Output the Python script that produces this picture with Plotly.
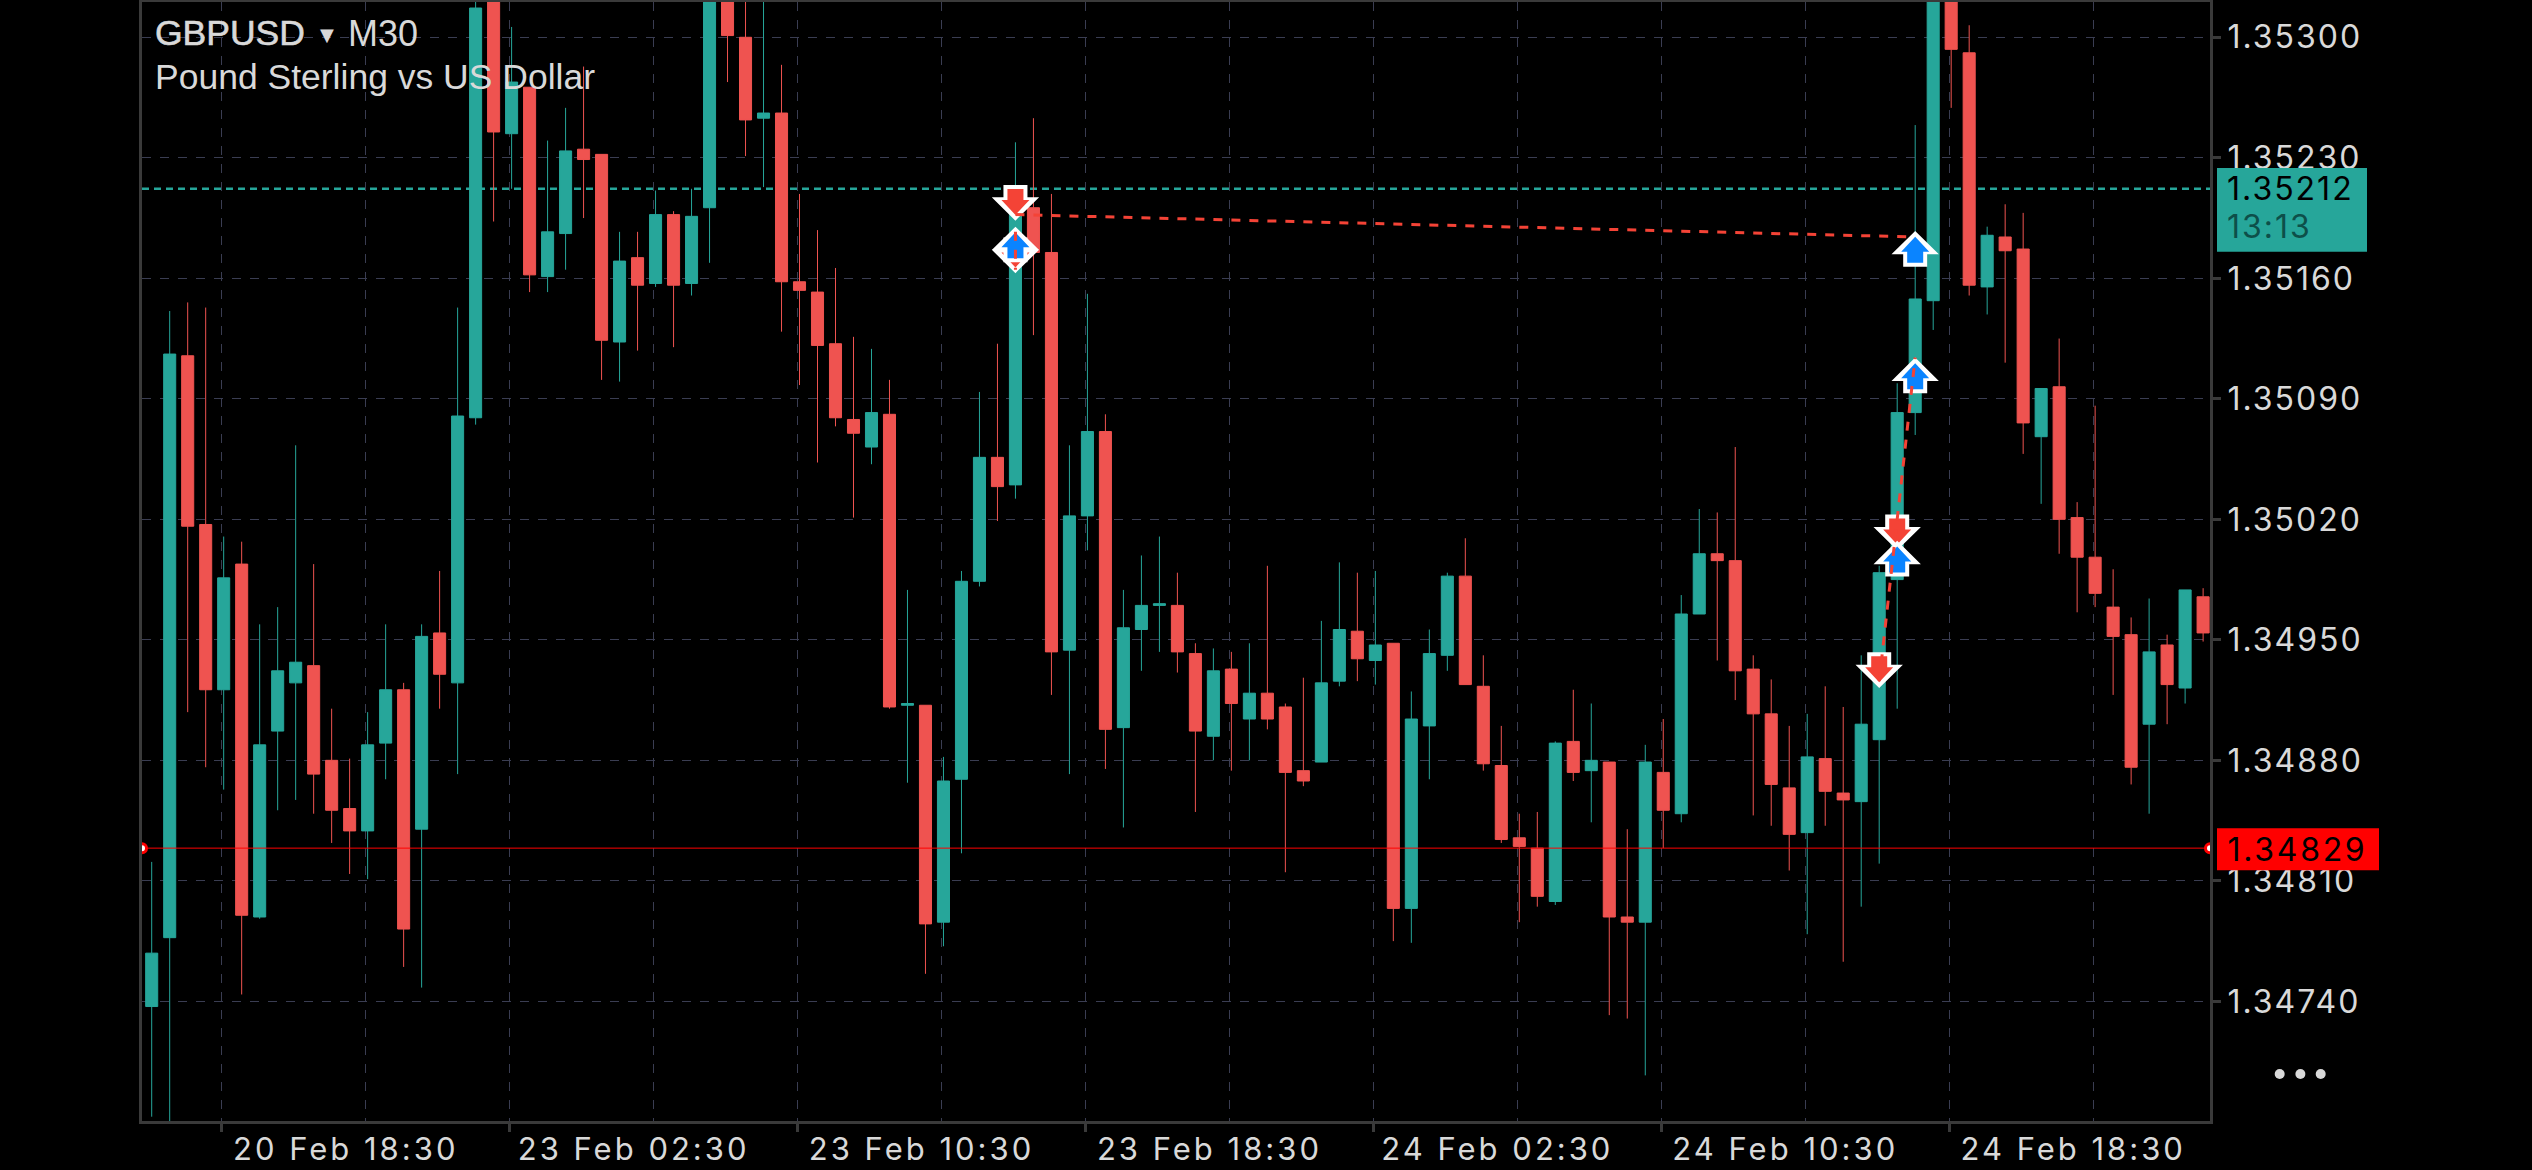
import plotly.graph_objects as go

# ---------- data ----------
symbol = "GBPUSD"
timeframe = "M30"
description = "Pound Sterling vs US Dollar"
countdown = "13:13"
ask_price = 1.35212
bid_price = 1.34829

open_ = [1.34737,1.34777,1.35115,1.35017,1.34921,1.34994,1.34789,1.34897,1.34925,1.34935,
         1.34880,1.34852,1.34839,1.34890,1.34921,1.34840,1.34954,1.34925,1.35079,1.35335,
         1.35244,1.35271,1.35161,1.35186,1.35235,1.35232,1.35123,1.35172,1.35157,1.35197,
         1.35157,1.35201,1.35335,1.35300,1.35253,1.35256,1.35158,1.35152,1.35122,1.35078,
         1.35062,1.35081,1.34912,1.34912,1.34786,1.34869,1.34984,1.35056,1.35040,1.35201,
         1.35175,1.34944,1.35022,1.35071,1.34899,1.34956,1.34970,1.34970,1.34942,1.34894,
         1.34933,1.34904,1.34919,1.34911,1.34874,1.34879,1.34926,1.34955,1.34938,1.34948,
         1.34794,1.34900,1.34941,1.34987,1.34923,1.34877,1.34835,1.34829,1.34798,1.34891,
         1.34874,1.34879,1.34789,1.34786,1.34873,1.34849,1.34965,1.35000,1.34996,1.34933,
         1.34907,1.34864,1.34838,1.34881,1.34861,1.34856,1.34892,1.34985,1.35082,1.35147,
         1.35345,1.35291,1.35155,1.35184,1.35177,1.35068,1.35097,1.35021,1.34998,1.34969,
         1.34953,1.34901,1.34947,1.34922,1.34975]
high = [1.34821,1.35141,1.35146,1.35143,1.35010,1.35007,1.34959,1.34969,1.35063,1.34994,
        1.34910,1.34881,1.34908,1.34959,1.34925,1.34959,1.34990,1.35143,1.35330,1.35340,
        1.35306,1.35271,1.35240,1.35259,1.35283,1.35232,1.35187,1.35187,1.35211,1.35199,
        1.35212,1.35340,1.35340,1.35330,1.35330,1.35284,1.35209,1.35188,1.35166,1.35126,
        1.35119,1.35101,1.34979,1.34912,1.34882,1.34990,1.35094,1.35122,1.35239,1.35253,
        1.35209,1.35063,1.35151,1.35081,1.34979,1.34999,1.35010,1.34989,1.34948,1.34945,
        1.34943,1.34948,1.34993,1.34913,1.34928,1.34961,1.34995,1.34989,1.34990,1.34948,
        1.34920,1.34956,1.34989,1.35009,1.34941,1.34900,1.34849,1.34850,1.34891,1.34921,
        1.34913,1.34879,1.34840,1.34889,1.34904,1.34976,1.35026,1.35024,1.35062,1.34941,
        1.34927,1.34900,1.34907,1.34923,1.34911,1.34941,1.34993,1.35099,1.35249,1.35345,
        1.35350,1.35307,1.35190,1.35203,1.35198,1.35096,1.35125,1.35030,1.35086,1.34991,
        1.34963,1.34974,1.34953,1.34979,1.34980]
low = [1.34673,1.34660,1.34908,1.34876,1.34863,1.34744,1.34788,1.34851,1.34857,1.34849,
       1.34832,1.34814,1.34811,1.34869,1.34760,1.34748,1.34910,1.34872,1.35075,1.35193,
       1.35212,1.35152,1.35152,1.35165,1.35195,1.35101,1.35100,1.35118,1.35155,1.35120,
       1.35150,1.35169,1.35274,1.35231,1.35213,1.35129,1.35098,1.35053,1.35074,1.35021,
       1.35052,1.34910,1.34867,1.34756,1.34772,1.34826,1.34981,1.35019,1.35032,1.35127,
       1.34918,1.34872,1.35002,1.34875,1.34841,1.34932,1.34943,1.34931,1.34850,1.34880,
       1.34874,1.34880,1.34898,1.34815,1.34865,1.34879,1.34923,1.34926,1.34924,1.34775,
       1.34774,1.34869,1.34932,1.34924,1.34874,1.34832,1.34786,1.34795,1.34796,1.34868,
       1.34844,1.34732,1.34730,1.34697,1.34829,1.34844,1.34965,1.34938,1.34915,1.34848,
       1.34842,1.34816,1.34779,1.34842,1.34763,1.34795,1.34820,1.34910,1.35069,1.35130,
       1.35259,1.35150,1.35139,1.35111,1.35058,1.35029,1.35000,1.34966,1.34969,1.34918,
       1.34866,1.34849,1.34901,1.34913,1.34949]
close = [1.34768,1.35116,1.35016,1.34921,1.34986,1.34790,1.34889,1.34932,1.34937,1.34872,
         1.34851,1.34839,1.34889,1.34921,1.34782,1.34952,1.34930,1.35080,1.35317,1.35245,
         1.35274,1.35162,1.35187,1.35234,1.35229,1.35124,1.35170,1.35156,1.35197,1.35156,
         1.35196,1.35340,1.35301,1.35252,1.35256,1.35158,1.35153,1.35121,1.35079,1.35070,
         1.35082,1.34911,1.34913,1.34785,1.34868,1.34984,1.35056,1.35039,1.35204,1.35175,
         1.34943,1.35022,1.35071,1.34898,1.34957,1.34970,1.34971,1.34943,1.34897,1.34932,
         1.34913,1.34919,1.34904,1.34873,1.34868,1.34925,1.34956,1.34939,1.34947,1.34794,
         1.34904,1.34942,1.34987,1.34924,1.34878,1.34834,1.34830,1.34801,1.34890,1.34873,
         1.34880,1.34789,1.34786,1.34879,1.34851,1.34965,1.35000,1.34996,1.34932,1.34907,
         1.34866,1.34837,1.34882,1.34862,1.34857,1.34901,1.34989,1.35082,1.35148,1.35340,
         1.35293,1.35156,1.35185,1.35176,1.35076,1.35096,1.35020,1.34998,1.34977,1.34952,
         1.34876,1.34943,1.34924,1.34979,1.34954]
bars = list(range(len(close)))

price_ticks = [1.35300,1.35230,1.35160,1.35090,1.35020,1.34950,1.34880,1.34810,1.34740]
price_labels = ["1.35300","1.35230","1.35160","1.35090","1.35020","1.34950","1.34880","1.34810","1.34740"]
time_ticks = [3.89,19.89,35.89,51.89,67.89,83.89,99.89]
time_labels = ["20 Feb 18:30","23 Feb 02:30","23 Feb 10:30","23 Feb 18:30","24 Feb 02:30","24 Feb 10:30","24 Feb 18:30"]
time_minor = [11.89,27.89,43.89,59.89,75.89,91.89,107.89]

sell_bars = [48,48,96,97]
sell_prices = [1.35163,1.351935,1.34922,1.35002]
buy_bars = [48,98,98,97]
buy_prices = [1.35190,1.351875,1.35114,1.350075]
trade_from = [(48,1.35197),(48,1.35187),(96,1.34926)]
trade_to = [(98,1.35184),(48,1.35165),(98,1.35114)]

# ---------- style ----------
BG = "#000000"; TEAL = "#26a69a"; RED = "#ef5350"; GRID = "#3a3d52"; AXIS = "#3a3a3a"; TEXT = "#d9d9d9"
ARROW_RED = "#f44336"; ARROW_BLUE = "#0a84ff"
FONT = "Inter"; TITLE_FONT = "Liberation Sans"
X_RANGE = [-0.539, 114.383]
Y_RANGE = [1.346705, 1.353205]

def poly(pts):
    return "M" + "L".join(f"{x},{y}" for x, y in pts) + "Z"

def arrow(bar, price, sign):
    # glyph outline in screen pixels relative to the tip; sign=1 points down, sign=-1 points up
    outer = [(0,0),(23.7,23.4),(12,23.4),(12,35.7),(-12,35.7),(-12,23.4),(-23.7,23.4)]
    inner = [(0,5.7),(14,20.7),(8,20.7),(8,31.7),(-8,31.7),(-8,20.7),(-14,20.7)]
    col = ARROW_RED if sign == 1 else ARROW_BLUE
    out = []
    for pts, c in ((outer, "#ffffff"), (inner, col)):
        out.append(dict(type="path", xref="x", yref="y", xsizemode="pixel", ysizemode="pixel",
                        xanchor=bar, yanchor=price,
                        path=poly([(x, sign*y) for x, y in pts]), fillcolor=c, line_width=0, layer="above"))
    return out

shapes = [dict(type="line", xref="paper", x0=0, x1=1, yref="y", y0=ask_price, y1=ask_price,
               line=dict(color=TEAL, width=2.5, dash="7px,5px"), layer="below")]
for b, p in zip(sell_bars, sell_prices):
    shapes += arrow(b, p, 1)
for b, p in zip(buy_bars, buy_prices):
    shapes += arrow(b, p, -1)
for a, b in zip(trade_from, trade_to):
    shapes.append(dict(type="line", xref="x", yref="y", x0=a[0], y0=a[1], x1=b[0], y1=b[1],
                       line=dict(color=ARROW_RED, width=3, dash="9px,9px"), layer="above"))
# price tags
shapes.append(dict(type="rect", xref="paper", xsizemode="pixel", xanchor=1, x0=7, x1=157,
                   yref="y", ysizemode="pixel", yanchor=ask_price, y0=20.7, y1=-63,
                   fillcolor=TEAL, line_width=0, layer="above"))
shapes.append(dict(type="rect", xref="paper", xsizemode="pixel", xanchor=1, x0=7, x1=169,
                   yref="y", ysizemode="pixel", yanchor=bid_price, y0=20, y1=-22,
                   fillcolor="#ff0000", line_width=0, layer="above"))
# "more" dots
for dx in (69.7, 90.4, 110.7):
    shapes.append(dict(type="circle", xref="paper", yref="paper", xsizemode="pixel", ysizemode="pixel",
                       xanchor=1, yanchor=0, x0=dx-5, x1=dx+5, y0=42, y1=52,
                       fillcolor=TEXT, line_width=0, layer="above"))

def label(text, x, y, xshift=0, yshift=0, size=32, color=TEXT, family=FONT, xref="paper", yref="paper", weight=None):
    return dict(text=text, x=x, y=y, xref=xref, yref=yref, xanchor="left", yanchor="middle",
                xshift=xshift, yshift=yshift, showarrow=False, borderpad=0,
                font=dict(size=size, color=color, family=family, weight=weight))

annotations = [
    label(symbol, 0, 1, xshift=12, yshift=-31, size=35.5, family=TITLE_FONT),
    label("▼", 0, 1, xshift=177, yshift=-32, size=18, family="DejaVu Sans"),
    label(timeframe, 0, 1, xshift=205, yshift=-31, size=36, family=TITLE_FONT),
    label(description, 0, 1, xshift=12, yshift=-75, size=35.5, family=TITLE_FONT),
    label(f"{ask_price:.5f}", 1, ask_price, xshift=23, size=32, color="#000000", yref="y"),
    label(countdown, 1, ask_price, xshift=21, yshift=-38, size=32, color="#0d4f49", yref="y"),
    label(f"{bid_price:.5f}", 1, bid_price, xshift=25.5, yshift=-1, size=32, color="#000000", yref="y"),
]

candles = go.Candlestick(
    x=bars, open=open_, high=high, low=low, close=close, whiskerwidth=0,
    increasing=dict(line=dict(color=TEAL, width=1), fillcolor=TEAL),
    decreasing=dict(line=dict(color=RED, width=1), fillcolor=RED),
    hoverinfo="skip", showlegend=False)

bid_line = go.Scatter(
    x=X_RANGE, y=[bid_price, bid_price], mode="lines+markers",
    line=dict(color="#ff0000", width=1),
    marker=dict(symbol="circle", size=9, color="#ffffff", line=dict(color="#ff0000", width=3)),
    hoverinfo="skip", showlegend=False)

fig = go.Figure([candles, bid_line])
fig.update_layout(
    width=2532, height=1170, paper_bgcolor=BG, plot_bgcolor=BG,
    margin=dict(l=142, r=322, t=2, b=49), boxgap=0.33, boxgroupgap=0, showlegend=False,
    shapes=shapes, annotations=annotations, hovermode=False,
    font=dict(family=FONT, color=TEXT),
    xaxis=dict(type="linear", range=X_RANGE, rangeslider_visible=False, automargin=False,
               tickmode="array", tickvals=time_ticks, ticktext=time_labels,
               ticks="outside", ticklen=8, tickwidth=3, tickcolor=AXIS,
               tickfont=dict(size=31, color=TEXT, family=FONT), ticklabelshift=124, ticklabelstandoff=-9,
               showgrid=True, gridcolor=GRID, griddash="9px,9px", gridwidth=1,
               minor=dict(tickmode="array", tickvals=time_minor, showgrid=True, gridcolor=GRID,
                          griddash="9px,9px", gridwidth=1, ticks=""),
               showline=True, linecolor=AXIS, linewidth=3, mirror=True, zeroline=False),
    yaxis=dict(side="right", range=Y_RANGE, automargin=False,
               tickmode="array", tickvals=price_ticks, ticktext=price_labels,
               ticks="outside", ticklen=8, tickwidth=3, tickcolor=AXIS,
               tickfont=dict(size=32, color=TEXT, family=FONT),
               showgrid=True, gridcolor=GRID, griddash="9px,9px", gridwidth=1,
               showline=True, linecolor=AXIS, linewidth=3, mirror=True, zeroline=False),
)
css = (".ytick text,.annotation[data-index='4'] text,.annotation[data-index='5'] text{letter-spacing:2px}"
       ".annotation[data-index='6'] text{letter-spacing:2.7px}"
       ".annotation[data-index='0'] text{stroke:#d9d9d9;stroke-width:0.6px}"
       ".xtick text{letter-spacing:3px}")
fig.write_html("out.html", config=dict(displayModeBar=False),
               post_script="document.body.style.margin='0';document.documentElement.style.overflow='hidden';"
                           "var s=document.createElement('style');s.textContent=\"" + css + "\";document.head.appendChild(s);")
